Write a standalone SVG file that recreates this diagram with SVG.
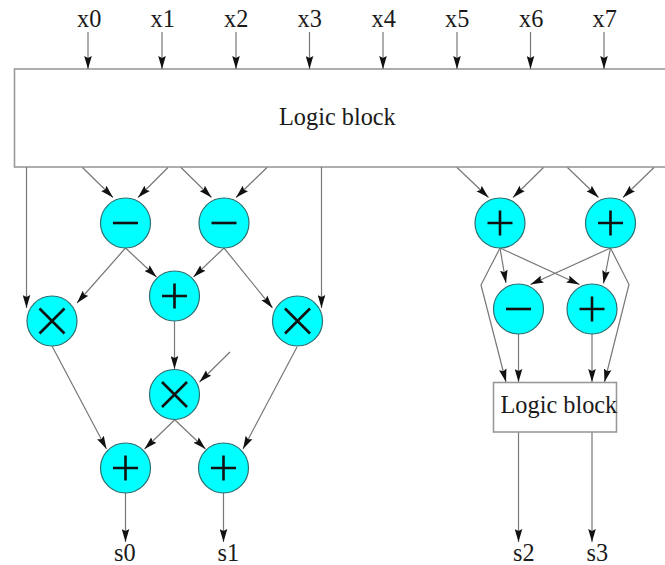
<svg xmlns="http://www.w3.org/2000/svg" width="665" height="565" viewBox="0 0 665 565">
<style>
text{font-family:"Liberation Serif","Times New Roman",serif;font-size:24.300px;fill:#1a1a1a}
.box{fill:#fff;stroke:#999;stroke-width:1.6}
.op circle{fill:#00ffff;stroke:#2f6f6f;stroke-width:1.2}
.sym{fill:none;stroke:#111;stroke-width:2.600}
#connectors path{fill:none;stroke:#777;stroke-width:1.200;marker-end:url(#a)}
</style>
<defs>
<marker id="a" markerUnits="userSpaceOnUse" markerWidth="14" markerHeight="8" refX="13" refY="4" orient="auto" viewBox="0 0 14 8">
<path d="M13,4L0,0.200L2,4L0,7.800z" fill="#111"/>
</marker>
<path id="minus" class="sym" d="M-12.500,0H12.500"/>
<path id="plus" class="sym" d="M-12.500,0H12.500M0,-12.500V12.500"/>
<path id="times" class="sym" d="M-12.500,-12.500L12.500,12.500M-12.500,12.500L12.500,-12.500"/>
</defs>
<rect width="665" height="565" fill="#fff"/>
<g id="logic-main"><rect class="box" x="14.500" y="69" width="660" height="98"/><text x="279" y="125">Logic block</text></g>
<g id="connectors">
<path d="M88,32V69"/><path d="M162,32V69"/><path d="M236,32V69"/><path d="M309.500,32V69"/><path d="M383,32V69"/><path d="M457,32V69"/><path d="M530.500,32V69"/><path d="M604,32V69"/>
<path d="M26.500,167V308"/><path d="M321.500,167V308"/>
<path d="M82.500,167.500L113,197.500"/><path d="M168,167.500L138,197.500"/><path d="M181,167.500L211.500,197.500"/><path d="M267,167.500L236,197.500"/>
<path d="M125.500,248L77,303"/><path d="M125.500,248L156.500,277"/><path d="M224,248L193.500,277"/><path d="M224,248L272.500,308"/>
<path d="M174.500,321V369"/><path d="M230,352L199.500,382"/>
<path d="M52,346L106.500,449"/><path d="M297,347L243,449"/><path d="M174.500,420L144.500,449"/><path d="M175,420L205.500,449"/>
<path d="M125.500,493V542"/><path d="M223.500,493V542"/>
<path d="M457,167.500L488.500,197.500"/><path d="M543.500,167.500L513,197.500"/><path d="M567.500,167.500L598.500,197.500"/><path d="M654,167.500L623,197.500"/>
<path d="M500,248L506,283"/><path d="M500,248L579.500,284.500"/><path d="M500,248L481,285L506,382"/>
<path d="M610.500,248L530.500,284.500"/><path d="M610.500,248L603.500,283.500"/><path d="M610.500,248L629,284.500L604.500,382"/>
<path d="M518.500,334V382"/><path d="M592,334V382"/>
<path d="M518.500,432V542"/><path d="M592,432V542"/>
</g>
<g id="logic-small"><rect class="box" x="493.500" y="382.500" width="123" height="49.500"/><text x="500.500" y="413">Logic block</text></g>
<g id="sub1" class="op"><circle cx="125.500" cy="223" r="25"/><use href="#minus" x="125.500" y="223"/></g>
<g id="sub2" class="op"><circle cx="224" cy="223" r="25"/><use href="#minus" x="224" y="223"/></g>
<g id="add1" class="op"><circle cx="174.500" cy="296" r="25"/><use href="#plus" x="174.500" y="296"/></g>
<g id="mul1" class="op"><circle cx="52" cy="321" r="25"/><use href="#times" x="52" y="321"/></g>
<g id="mul2" class="op"><circle cx="297.500" cy="321" r="25"/><use href="#times" x="297.500" y="321"/></g>
<g id="mul3" class="op"><circle cx="174.500" cy="394.500" r="25"/><use href="#times" x="174.500" y="394.500"/></g>
<g id="add2" class="op"><circle cx="125.500" cy="468" r="25"/><use href="#plus" x="125.500" y="468"/></g>
<g id="add3" class="op"><circle cx="223.500" cy="468" r="25"/><use href="#plus" x="223.500" y="468"/></g>
<g id="add4" class="op"><circle cx="500" cy="223" r="25"/><use href="#plus" x="500" y="223"/></g>
<g id="add5" class="op"><circle cx="610.500" cy="223" r="25"/><use href="#plus" x="610.500" y="223"/></g>
<g id="sub3" class="op"><circle cx="518.500" cy="309" r="25"/><use href="#minus" x="518.500" y="309"/></g>
<g id="add6" class="op"><circle cx="592" cy="309" r="25"/><use href="#plus" x="592" y="309"/></g>
<g id="labels">
<text x="77" y="27">x0</text><text x="150.500" y="27">x1</text><text x="224" y="27">x2</text><text x="297.500" y="27">x3</text><text x="371.500" y="27">x4</text><text x="445" y="27">x5</text><text x="519" y="27">x6</text><text x="592.500" y="27">x7</text>
<text x="114" y="561">s0</text><text x="217.500" y="561">s1</text><text x="513" y="561">s2</text><text x="586.500" y="561">s3</text>
</g>
</svg>
